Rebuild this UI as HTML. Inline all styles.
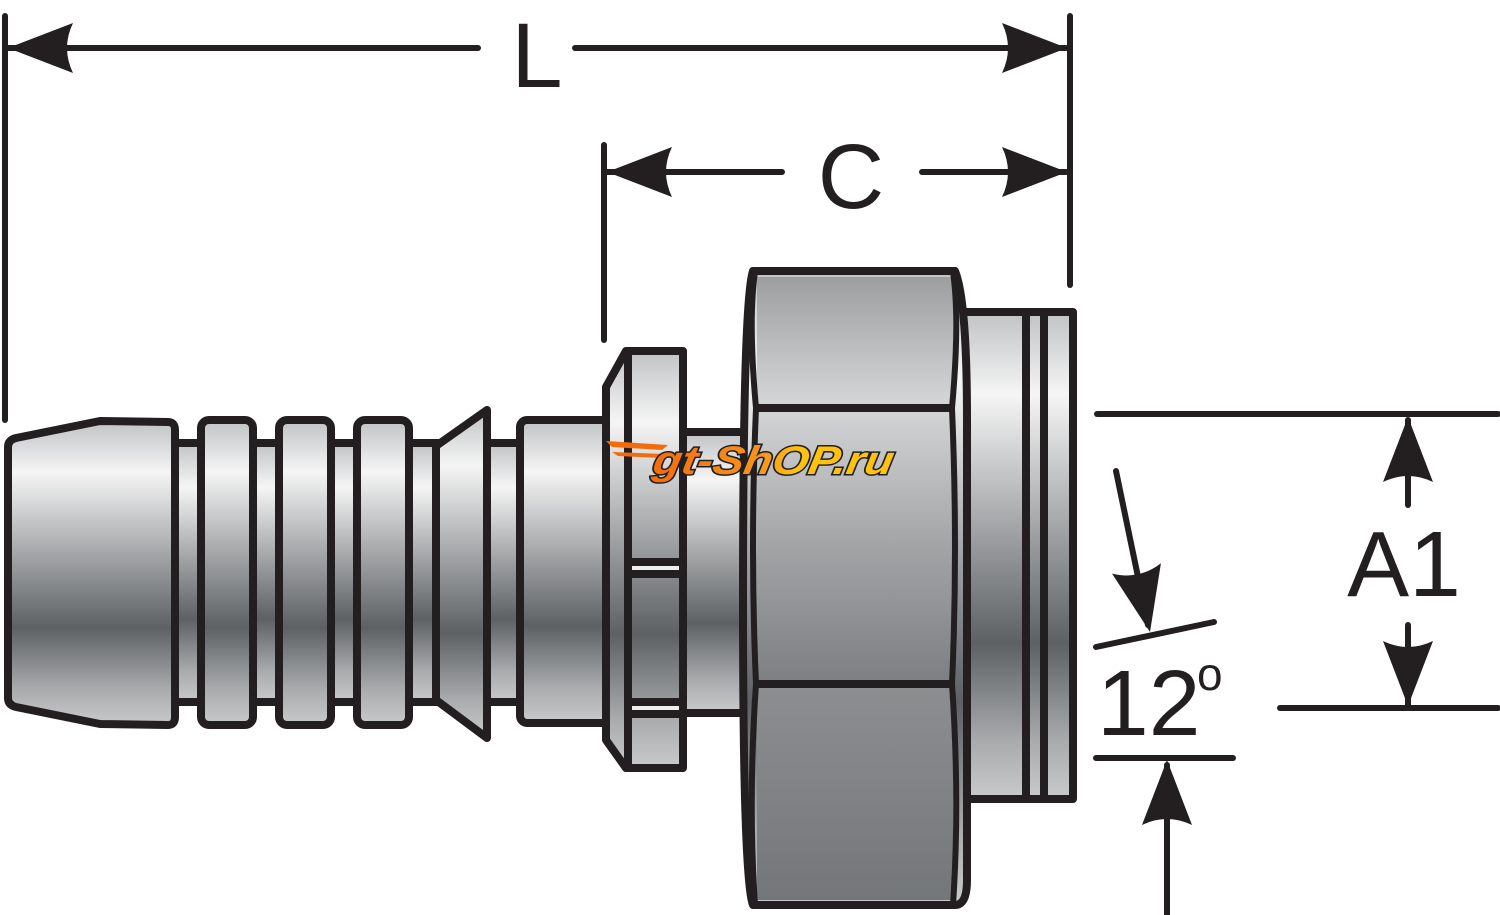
<!DOCTYPE html>
<html><head><meta charset="utf-8"><style>
html,body{margin:0;padding:0;background:#fff;}
svg{display:block;}
.t{font-family:"Liberation Sans",Arial,sans-serif;fill:#231f20;}
</style></head><body>
<svg width="1500" height="915" viewBox="0 0 1500 915" xmlns="http://www.w3.org/2000/svg">
<defs>
<linearGradient id="m" x1="0" y1="0" x2="0" y2="1">
<stop offset="0" stop-color="#c0c2c4"/>
<stop offset="0.17" stop-color="#f5f5f5"/>
<stop offset="0.42" stop-color="#a9abad"/>
<stop offset="0.68" stop-color="#5d6163"/>
<stop offset="0.88" stop-color="#a8aaac"/>
<stop offset="1" stop-color="#c9cacc"/>
</linearGradient>
<linearGradient id="h1" x1="0" y1="0" x2="0" y2="1">
<stop offset="0" stop-color="#9c9ea0"/><stop offset="1" stop-color="#d6d7d8"/>
</linearGradient>
<linearGradient id="h2" x1="0" y1="0" x2="0" y2="1">
<stop offset="0" stop-color="#d3d4d5"/><stop offset="0.5" stop-color="#a2a4a6"/><stop offset="1" stop-color="#7d8082"/>
</linearGradient>
<linearGradient id="h3" x1="0" y1="0" x2="0" y2="1">
<stop offset="0" stop-color="#8c8e90"/><stop offset="1" stop-color="#747779"/>
</linearGradient>
<linearGradient id="lg" x1="0" y1="0" x2="1" y2="0">
<stop offset="0" stop-color="#f26c0d"/><stop offset="0.45" stop-color="#f7941d"/><stop offset="0.6" stop-color="#ffc20e"/><stop offset="1" stop-color="#ffc20e"/>
</linearGradient>
<path id="arL" d="M0 0 L65 -25 Q53 0 65 25 Z" fill="#231f20"/>
</defs>

<g stroke="#231f20" stroke-width="8" stroke-linejoin="round" fill="url(#m)">
<rect x="160" y="443" width="370" height="259"/>
<path d="M8 447 Q8 440 16 438 L100 421 L168 422 Q175 422 175 430 L175 717 Q175 725 168 725 L100 724 L16 707 Q8 705 8 698 Z"/>
<rect x="201" y="420" width="52" height="305" rx="8"/>
<rect x="279" y="420" width="52" height="305" rx="8"/>
<rect x="357" y="420" width="52" height="305" rx="8"/>
<path d="M436 446 L487 410 L487 738 L436 700 Z"/>
<rect x="520" y="420" width="120" height="303" rx="7"/>
<rect x="650" y="432" width="110" height="281"/>
<path d="M606 387 L626 351 L683 351 L683 768 L626 768 L606 740 Z"/>
<line x1="628" y1="351" x2="628" y2="768"/>
<rect x="628" y="562" width="55" height="12" fill="#eee"/>
<rect x="628" y="702" width="55" height="12" fill="#eee"/>
<rect x="962" y="312" width="111" height="487"/>
<line x1="1026" y1="312" x2="1026" y2="799"/>
<line x1="1044" y1="312" x2="1044" y2="799"/>
<path d="M753 271 L955 271 Q967 300 967 420 L967 880 Q967 905 955 905 L753 905 Q743 880 743 600 Q743 300 753 271 Z"/>
<path d="M757 277 L953 277 L953 406 L757 406 Z" fill="url(#h1)" stroke="none"/>
<path d="M757 410 L953 410 L953 681 L757 681 Z" fill="url(#h2)" stroke="none"/>
<path d="M757 686 L953 686 L953 900 L757 900 Z" fill="url(#h3)" stroke="none"/>
<line x1="757" y1="408" x2="953" y2="408"/>
<line x1="757" y1="684" x2="953" y2="684"/>
<path d="M755 272 Q748 320 756 408 Q750 550 756 684 Q748 800 755 905" fill="none" stroke-width="6"/>
<path d="M953 272 Q960 320 952 408 Q958 550 952 684 Q960 800 953 905" fill="none" stroke-width="6"/>
</g>

<g>
<path d="M606 441 L668 445 L662 450 L612 447 Z M612 452 L664 454 L660 458 L618 456 Z" fill="#f26c0d"/>
<text x="735" y="474" font-size="40" font-weight="bold" font-style="italic" transform="skewX(-10)" textLength="240" lengthAdjust="spacingAndGlyphs" style="font-family:'Liberation Sans',sans-serif;fill:url(#lg);stroke:#231f20;stroke-width:3;paint-order:stroke">gt-ShOP.ru</text>
</g>

<g stroke="#231f20" stroke-width="6" stroke-linecap="round" fill="none">
<line x1="5" y1="16" x2="5" y2="420"/>
<line x1="1070" y1="16" x2="1070" y2="285"/>
<line x1="8" y1="48" x2="478" y2="48"/>
<line x1="575" y1="48" x2="1066" y2="48"/>
<line x1="604" y1="145" x2="604" y2="340"/>
<line x1="607" y1="172" x2="782" y2="172"/>
<line x1="922" y1="172" x2="1066" y2="172"/>
<line x1="1097" y1="414" x2="1498" y2="414"/>
<line x1="1280" y1="708" x2="1498" y2="708"/>
<line x1="1408" y1="420" x2="1408" y2="505"/>
<line x1="1408" y1="625" x2="1408" y2="705"/>
<line x1="1116" y1="471" x2="1148" y2="625"/>
<line x1="1096" y1="647" x2="1214" y2="622"/>
<line x1="1096" y1="758" x2="1233" y2="758"/>
<line x1="1167" y1="765" x2="1167" y2="915"/>
</g>
<use href="#arL" transform="translate(8,48)"/>
<use href="#arL" transform="translate(1067,48) rotate(180)"/>
<use href="#arL" transform="translate(607,172)"/>
<use href="#arL" transform="translate(1067,172) rotate(180)"/>
<use href="#arL" transform="translate(1408,417) rotate(90)"/>
<use href="#arL" transform="translate(1408,706) rotate(-90)"/>
<use href="#arL" transform="translate(1167,760) rotate(90)"/>
<use href="#arL" transform="translate(1150,632) rotate(-102)"/>

<text class="t" x="537" y="87" font-size="92" text-anchor="middle">L</text>
<text class="t" x="851" y="208" font-size="92" text-anchor="middle">C</text>
<text class="t" x="1404" y="596" font-size="93" text-anchor="middle">A1</text>
<text class="t" x="1097" y="735" font-size="93">12</text>
<text class="t" x="1197" y="690" font-size="46">o</text>
</svg>
</body></html>
